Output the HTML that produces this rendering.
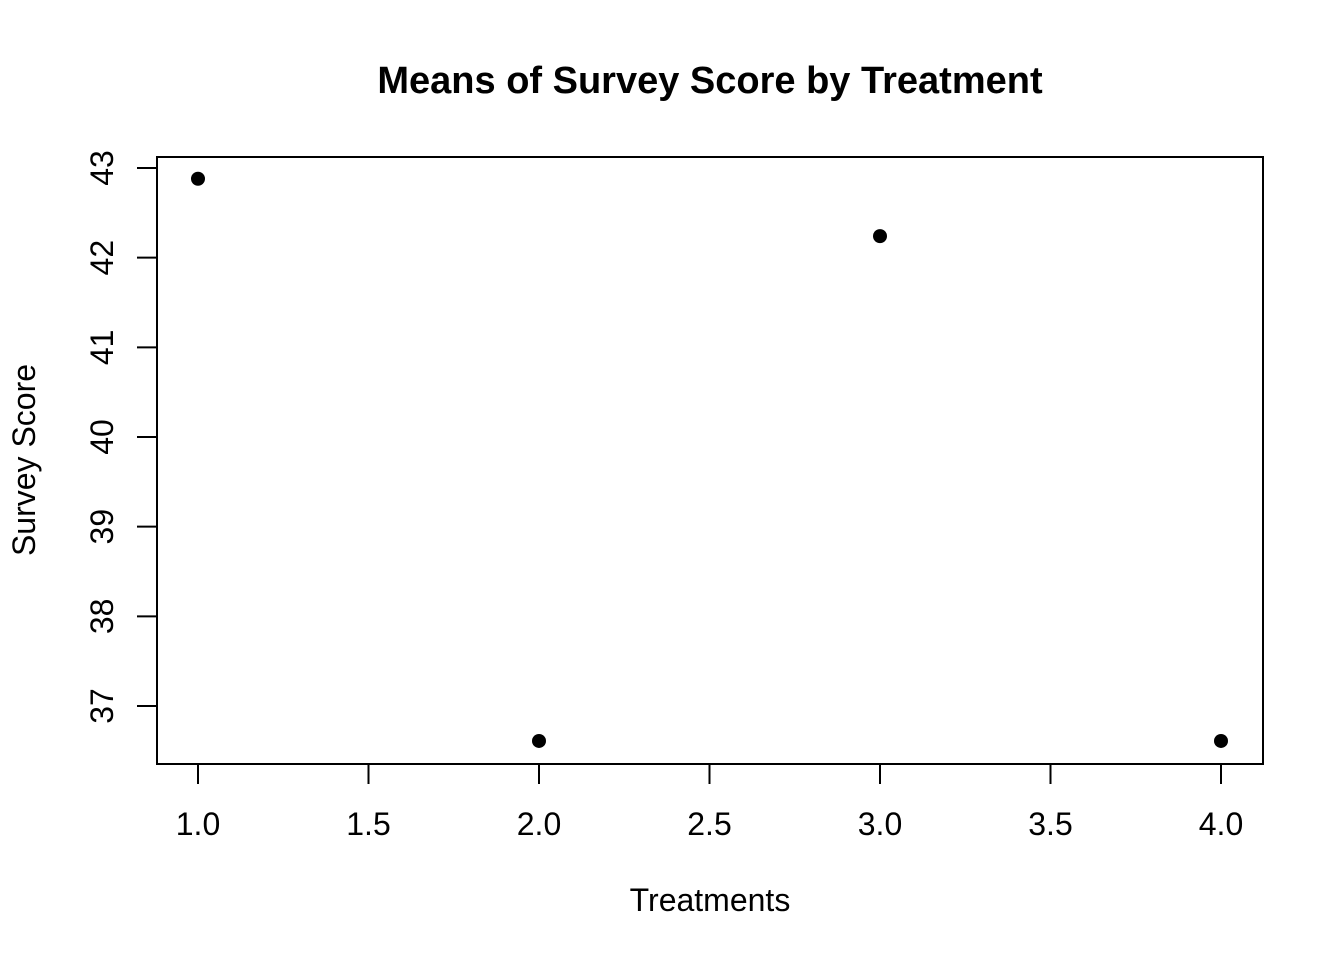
<!DOCTYPE html>
<html><head><meta charset="utf-8"><style>
body{margin:0;background:#fff;}
svg text{font-family:"Liberation Sans",Arial,sans-serif;}
</style></head><body>
<svg id="chart" width="1344" height="960" xmlns="http://www.w3.org/2000/svg">
<text x="710" y="93" text-anchor="middle" font-size="38" font-weight="bold">Means of Survey Score by Treatment</text>
<rect x="157" y="157" width="1106" height="607" fill="none" stroke="#000" stroke-width="2"/>
<text x="710" y="911" text-anchor="middle" font-size="32">Treatments</text>
<text transform="translate(35,460) rotate(-90)" text-anchor="middle" font-size="32">Survey Score</text>
<g id="axes"></g><g id="points"></g>
</svg>
<script>
const categories=[1,2,3,4];
const scores=[42.88,36.61,42.24,36.61];
const xTicks=[1.0,1.5,2.0,2.5,3.0,3.5,4.0];
const yTicks=[37,38,39,40,41,42,43];
const NS="http://www.w3.org/2000/svg";
function xs(v){return 198+(v-1)*341;}
function ys(v){return 706-(v-37)*89.67;}
const axes=document.getElementById('axes'),pts=document.getElementById('points');
function mk(t,a,p){const e=document.createElementNS(NS,t);for(const k in a)e.setAttribute(k,a[k]);p.appendChild(e);return e;}
xTicks.forEach(t=>{
  const l=mk('line',{x1:xs(t),x2:xs(t),y1:764,y2:784,stroke:'#000','stroke-width':2},axes);
  
  
  const tx=mk('text',{x:xs(t),y:835,'text-anchor':'middle','font-size':32},axes);
  tx.textContent=t.toFixed(1);
  
  
});
yTicks.forEach(t=>{
  const l=mk('line',{x1:137,x2:157,y1:ys(t),y2:ys(t),stroke:'#000','stroke-width':2},axes);
  
  
  const tx=mk('text',{transform:`translate(113,${ys(t)}) rotate(-90)`,'text-anchor':'middle','font-size':32},axes);
  tx.textContent=t;
  
  
});
categories.forEach((c,i)=>{
  const p=mk('circle',{cx:xs(c),cy:ys(scores[i]),r:7,fill:'#000'},pts);
  
  
});
</script>
</body></html>
